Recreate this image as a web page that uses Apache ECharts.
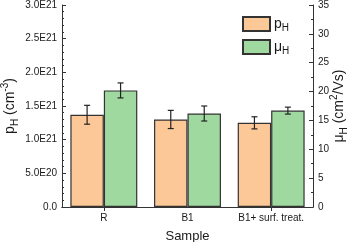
<!DOCTYPE html>
<html><head><meta charset="utf-8">
<script src="https://cdn.jsdelivr.net/npm/echarts@6/dist/echarts.min.js"></script>
<style>html,body{margin:0;padding:0;background:#fff}#c{width:350px;height:242px}</style>
</head><body><div id="c"></div>
<script>
var categories = ['R', 'B1', 'B1+ surf. treat.'];
var pH = [1.37e21, 1.30e21, 1.25e21];
var pHErr = [0.14e21, 0.135e21, 0.09e21];
var muH = [20.2, 16.2, 16.7];
var muHErr = [1.3, 1.3, 0.6];

function sciLabel(v) {
  if (v === 0) return '0.0';
  var e = Math.floor(Math.log10(v) + 1e-9);
  var m = v / Math.pow(10, e);
  return m.toFixed(1) + 'E' + e;
}

var chart = echarts.init(document.getElementById('c'), null, {renderer: 'canvas'});
var FONT = 'Liberation Sans';
var DARK = '#333';
var TXT = '#1a1a1a';
var orange = '#FDC897', green = '#A0D9A0';

function errRender(values, errs, side) {
  return function (params, api) {
    var i = api.value(0);
    var v = values[i], e = errs[i];
    var c = api.coord([i, v]);
    var bandW = api.size([1, 0])[0];
    var barW = bandW * 0.8 / 2;
    var x = c[0] + side * barW / 2;
    var top = api.coord([i, v + e])[1];
    var bot = api.coord([i, v - e])[1];
    var cap = 3;
    var st = {stroke: '#222', lineWidth: 1.2};
    return {type: 'group', children: [
      {type: 'line', shape: {x1: x, y1: top, x2: x, y2: bot}, style: st},
      {type: 'line', shape: {x1: x - cap, y1: top, x2: x + cap, y2: top}, style: st},
      {type: 'line', shape: {x1: x - cap, y1: bot, x2: x + cap, y2: bot}, style: st}
    ]};
  };
}

var richName = {
  n: {fontSize: 14, fontFamily: FONT, color: TXT, lineHeight: 20},
  sub: {fontSize: 10, fontFamily: FONT, color: TXT, verticalAlign: 'bottom'},
  sup: {fontSize: 10, fontFamily: FONT, color: TXT, verticalAlign: 'top'}
};

chart.setOption({
  animation: false,
  textStyle: {fontFamily: FONT},
  grid: {left: 62, right: 37, top: 5, bottom: 35, containLabel: false, outerBoundsMode: 'none'},
  legend: {
    orient: 'vertical', left: 242, top: 16, padding: 0, itemWidth: 27, itemHeight: 14, itemGap: 6,
    icon: 'rect',
    data: ['pH', 'μH'],
    formatter: function (n) { return n === 'pH' ? '{n|p}{sub|H}' : '{n|μ}{sub|H}'; },
    textStyle: {padding: [0, 0, 0, -1], rich: {
      n: {fontSize: 14, fontFamily: FONT, color: TXT, lineHeight: 18},
      sub: {fontSize: 10, fontFamily: FONT, color: TXT, verticalAlign: 'bottom'}
    }}
  },
  xAxis: [{
    type: 'category', data: categories, position: 'bottom',
    axisLine: {lineStyle: {color: DARK, width: 1}},
    axisTick: {show: false},
    axisLabel: {fontSize: 10, color: TXT, fontFamily: FONT, margin: 6, interval: 0},
    name: 'Sample', nameLocation: 'middle', nameGap: 23, nameMoveOverlap: false,
    nameTextStyle: {fontSize: 13, color: TXT, fontFamily: FONT}
  }, {
    type: 'category', data: categories, position: 'top',
    axisLine: {lineStyle: {color: DARK, width: 1}},
    axisTick: {show: true, inside: true, alignWithLabel: true, length: 4, lineStyle: {color: DARK}},
    axisLabel: {show: false}
  }],
  yAxis: [{
    type: 'value', min: 0, max: 3e21, interval: 5e20, position: 'left',
    axisLine: {show: true, lineStyle: {color: DARK, width: 1}},
    axisTick: {show: true, inside: true, length: 4, lineStyle: {color: DARK}},
    minorTick: {show: true, splitNumber: 5, length: 2, lineStyle: {color: DARK}},
    splitLine: {show: false},
    axisLabel: {fontSize: 10, color: TXT, fontFamily: FONT, margin: 5, formatter: sciLabel},
    name: '{n|p}{sub|H}{n| (cm}{sup|-3}{n|)}', nameLocation: 'middle', nameGap: 42, nameRotate: 90,
    nameMoveOverlap: false,
    nameTextStyle: {rich: richName}
  }, {
    type: 'value', min: 0, max: 35, interval: 5, position: 'right',
    axisLine: {show: true, lineStyle: {color: DARK, width: 1}},
    axisTick: {show: true, inside: true, length: 4, lineStyle: {color: DARK}},
    minorTick: {show: true, splitNumber: 2, length: 2, lineStyle: {color: DARK}},
    splitLine: {show: false},
    axisLabel: {fontSize: 10, color: TXT, fontFamily: FONT, margin: 5},
    name: '{n|μ}{sub|H}{n| (cm}{sup|2}{n|/Vs)}', nameLocation: 'middle', nameGap: 16, nameRotate: 90,
    nameMoveOverlap: false,
    nameTextStyle: {rich: richName}
  }],
  series: [{
    name: 'pH', type: 'bar', data: pH, yAxisIndex: 0, xAxisIndex: 0,
    barGap: '0%', barCategoryGap: '20%',
    itemStyle: {color: orange, borderColor: DARK, borderWidth: 1.2}
  }, {
    name: 'μH', type: 'bar', data: muH, yAxisIndex: 1, xAxisIndex: 0,
    barGap: '0%', barCategoryGap: '20%',
    itemStyle: {color: green, borderColor: DARK, borderWidth: 1.2}
  }, {
    type: 'custom', yAxisIndex: 0, xAxisIndex: 0, z: 5,
    data: categories.map(function (c, i) { return [i, pH[i]]; }),
    renderItem: errRender(pH, pHErr, -1)
  }, {
    type: 'custom', yAxisIndex: 1, xAxisIndex: 0, z: 5,
    data: categories.map(function (c, i) { return [i, muH[i]]; }),
    renderItem: errRender(muH, muHErr, 1)
  }]
});
</script></body></html>
